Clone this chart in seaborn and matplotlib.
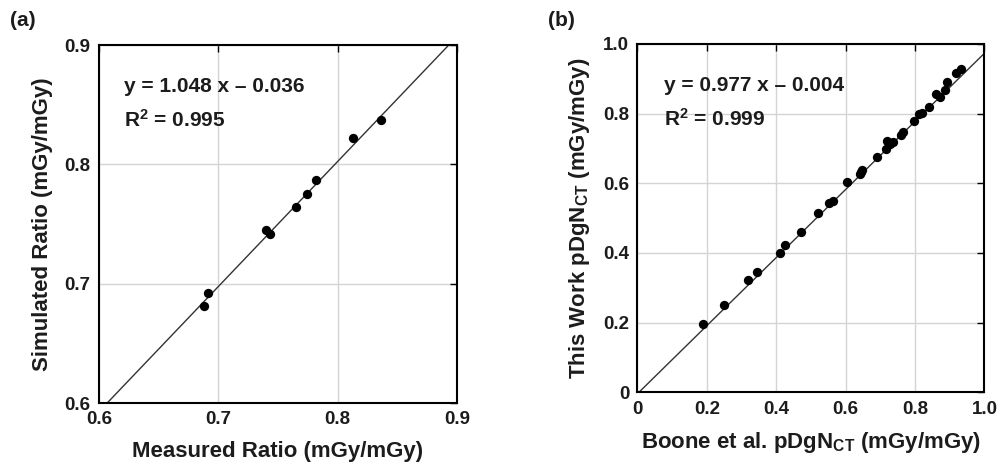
import numpy as np
import pandas as pd
import matplotlib
matplotlib.use("Agg")
import matplotlib.pyplot as plt
import seaborn as sns

# ---- data panel (a) ----
measured_a = [0.688, 0.691, 0.740, 0.743, 0.765, 0.774, 0.782, 0.813, 0.836]
simulated_a = [0.681, 0.692, 0.745, 0.742, 0.764, 0.775, 0.787, 0.822, 0.837]
slope_a, intercept_a = 1.048, -0.036
text_a = ["y = 1.048 x \u2013 0.036", "R$^2$ = 0.995"]
ticks_a = [0.6, 0.7, 0.8, 0.9]
ticklabels_a = ["0.6", "0.7", "0.8", "0.9"]

# ---- data panel (b) ----
boone_b = [0.190, 0.250, 0.318, 0.344, 0.410, 0.425, 0.470, 0.521, 0.552, 0.564,
           0.603, 0.640, 0.645, 0.648, 0.691, 0.715, 0.720, 0.728, 0.737, 0.759,
           0.764, 0.797, 0.810, 0.819, 0.839, 0.860, 0.872, 0.886, 0.893, 0.918, 0.932]
thiswork_b = [0.196, 0.250, 0.323, 0.345, 0.400, 0.422, 0.461, 0.514, 0.542, 0.549,
              0.604, 0.625, 0.632, 0.637, 0.674, 0.699, 0.722, 0.712, 0.718, 0.739,
              0.746, 0.779, 0.799, 0.801, 0.819, 0.855, 0.848, 0.868, 0.890, 0.916, 0.929]
slope_b, intercept_b = 0.977, -0.004
text_b = ["y = 0.977 x \u2013 0.004", "R$^2$ = 0.999"]
ticks_b = [0.0, 0.2, 0.4, 0.6, 0.8, 1.0]
ticklabels_b = ["0", "0.2", "0.4", "0.6", "0.8", "1.0"]

TXT = "#1c1c1c"

sns.set_style("white")
plt.rcParams['font.family'] = ['Liberation Sans', 'DejaVu Sans']
plt.rcParams['font.weight'] = 'bold'
plt.rcParams['text.color'] = TXT
plt.rcParams['axes.labelcolor'] = TXT
plt.rcParams['mathtext.fontset'] = 'custom'
plt.rcParams['mathtext.rm'] = 'Liberation Sans:bold'
plt.rcParams['mathtext.bf'] = 'Liberation Sans:bold'
plt.rcParams['mathtext.it'] = 'Liberation Sans:bold:italic'

fig = plt.figure(figsize=(10.03, 4.66), dpi=100)
ax_a = fig.add_axes([99/1003, 1-403/466, 358/1003, 358/466])
ax_b = fig.add_axes([637.5/1003, 1-392.3/466, 347/1003, 348.5/466])


def style(ax, ticks, labels, lim):
    ax.set_xlim(*lim)
    ax.set_ylim(*lim)
    ax.set_xticks(ticks)
    ax.set_yticks(ticks)
    ax.set_xticklabels(labels)
    ax.set_yticklabels(labels)
    ax.grid(True, color="#d4d4d4", linewidth=1.0)
    ax.set_axisbelow(True)
    ax.tick_params(direction="in", top=True, right=True, length=5, width=1,
                   labelsize=13.5, pad=6, colors="black", labelcolor=TXT)
    for lab in ax.get_xticklabels() + ax.get_yticklabels():
        lab.set_fontweight("bold")
    for sp in ax.spines.values():
        sp.set_visible(True)
        sp.set_color("black")
        sp.set_linewidth(1.5)


df_a = pd.DataFrame({"x": measured_a, "y": simulated_a})
xl = np.array([0.6, 0.9])
line_a = pd.DataFrame({"x": xl, "y": slope_a * xl + intercept_a})
sns.lineplot(data=line_a, x="x", y="y", ax=ax_a, color="#333333", linewidth=1.0)
sns.scatterplot(data=df_a, x="x", y="y", ax=ax_a, color="black", s=45,
                edgecolor="black", linewidth=0, zorder=3)
style(ax_a, ticks_a, ticklabels_a, (0.6, 0.9))
ax_a.set_xlabel("Measured Ratio (mGy/mGy)", fontsize=16, fontweight="bold", labelpad=9)
ax_a.set_ylabel("Simulated Ratio (mGy/mGy)", fontsize=16, fontweight="bold", labelpad=8)
ax_a.text(0.07, 0.885, text_a[0], transform=ax_a.transAxes, fontsize=15,
          fontweight="bold", va="center")
ax_a.text(0.07, 0.79, text_a[1], transform=ax_a.transAxes, fontsize=15,
          fontweight="bold", va="center")

df_b = pd.DataFrame({"x": boone_b, "y": thiswork_b})
xl = np.array([0.0, 1.0])
line_b = pd.DataFrame({"x": xl, "y": slope_b * xl + intercept_b})
sns.lineplot(data=line_b, x="x", y="y", ax=ax_b, color="#333333", linewidth=1.0)
sns.scatterplot(data=df_b, x="x", y="y", ax=ax_b, color="black", s=45,
                edgecolor="black", linewidth=0, zorder=3)
style(ax_b, ticks_b, ticklabels_b, (0.0, 1.0))
ax_b.set_xlabel(r"Boone et al. pDgN$_{\mathbf{CT}}$ (mGy/mGy)", fontsize=16,
                fontweight="bold", labelpad=9)
ax_b.set_ylabel(r"This Work pDgN$_{\mathbf{CT}}$ (mGy/mGy)", fontsize=16,
                fontweight="bold", labelpad=8)
ax_b.text(0.077, 0.88, text_b[0], transform=ax_b.transAxes, fontsize=15,
          fontweight="bold", va="center")
ax_b.text(0.077, 0.785, text_b[1], transform=ax_b.transAxes, fontsize=15,
          fontweight="bold", va="center")

fig.text(10/1003, 1-20/466, "(a)", fontsize=15, fontweight="bold", va="center")
fig.text(548/1003, 1-20/466, "(b)", fontsize=15, fontweight="bold", va="center")

fig.savefig("out.png", dpi=100)
